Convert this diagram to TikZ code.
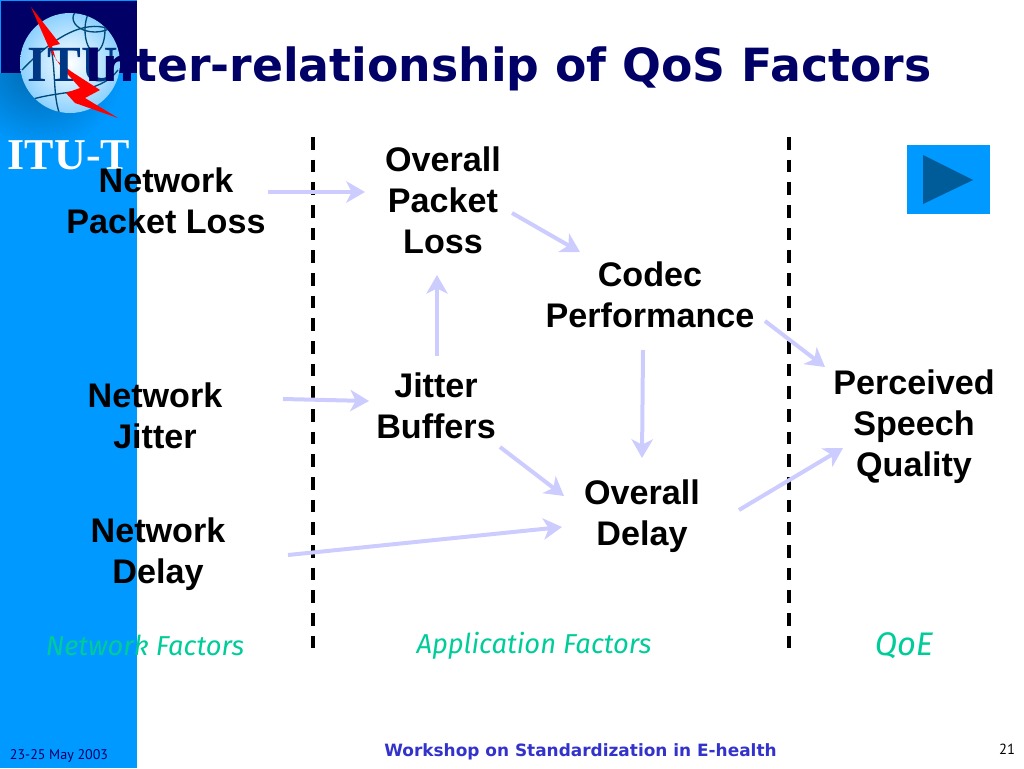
\documentclass[tikz,border=0pt]{standalone}
\usepackage{fontspec}
\setmainfont{Liberation Sans}
\newfontfamily\titlefont{DejaVu Sans}
\newfontfamily\serifont{Liberation Serif}
\newfontfamily\factorfont{Fira Sans}
\newfontfamily\datefont{PT Sans}
\usetikzlibrary{positioning,calc,arrows.meta}
\definecolor{ITUBlue}{RGB}{0,153,255}
\definecolor{ITUNavy}{RGB}{0,0,102}
\definecolor{ITUDark}{RGB}{0,92,153}
\definecolor{FlowBlue}{RGB}{204,204,255}
\definecolor{FactorGreen}{RGB}{0,204,153}
\definecolor{FootBlue}{RGB}{51,51,204}
\tikzset{
    factor/.style={font=\bfseries\fontsize{25.6}{30.75}\selectfont, align=center, inner sep=0pt, text=black},
    flow/.style={draw=FlowBlue, line width=3pt, -{Stealth[length=14pt,width=16pt,inset=4pt]}},
    divider/.style={draw=black, line width=2.6pt, dash pattern=on 9.5pt off 7.5pt},
    column/.style={font=\factorfont\itshape\fontsize{20.5}{24}\selectfont, text=FactorGreen, inner sep=0pt},
}
\begin{document}
\begin{tikzpicture}[x=0.75pt, y=-0.75pt]
    \useasboundingbox (0,0) rectangle (1024,768);
    % side bar and logo
    \fill[ITUBlue] (0,0) rectangle (137,768);
    \begin{scope}
        \clip (0,73) rectangle (137,140);
        \shade[inner color=ITUDark!85!ITUBlue, outer color=ITUBlue] (40,65) circle (85);
    \end{scope}
    \fill[ITUNavy] (1,1) rectangle (137,73);
    \shade[inner color=white, outer color=ITUBlue!45!white] (70,63) circle (50);
    \begin{scope}
        \clip (70,63) circle (50);
        \draw[ITUDark!80!black, line width=1pt] (22,70) .. controls (60,30) and (90,20) .. (112,30);
        \draw[ITUDark!80!black, line width=1pt] (30,100) .. controls (60,90) and (100,95) .. (118,70);
        \draw[ITUDark!80!black, line width=1pt] (40,20) .. controls (60,50) and (50,90) .. (60,115);
        \draw[ITUDark!80!black, line width=1pt] (95,18) ellipse (22 and 14);
        \draw[ITUDark!80!black, line width=1pt] (95,30) ellipse (10 and 22);
    \end{scope}
    \fill[red] (31,7) -- (60,44) -- (52,46) -- (56,60) -- (72,72) -- (100,90) -- (85,98) -- (118,118) -- (75,103) -- (66,93) -- (80,88) -- (62,68) -- (50,50) -- cycle;
    \node[font=\serifont\bfseries\fontsize{38}{38}\selectfont, text=ITUDark!60!ITUNavy, inner sep=0pt] (logotext) at (73,65) {ITU};
    \node[font=\serifont\bfseries\fontsize{33}{33}\selectfont, text=white, inner sep=0pt] (itut) at (69,155) {ITU-T};
    % title
    \node[font=\titlefont\bfseries\fontsize{34.3}{34}\selectfont, text=ITUNavy, inner sep=0pt] (title) at (508.5,69) {Inter-relationship of QoS Factors};
    % play button
    \fill[ITUBlue] (907,145) rectangle (990,214);
    \fill[ITUDark] (923,155) -- (973,180) -- (923,204) -- cycle;
    % dividers
    \coordinate (ltop) at (313,137);
    \coordinate (lbot) at (313,649);
    \coordinate (rtop) at (789,137);
    \coordinate (rbot) at (789,649);
    \draw[divider] (ltop) -- (lbot);
    \draw[divider] (rtop) -- (rbot);
    % factors
    \node[factor] (nloss) at (166,201) {Network\\Packet Loss};
    \node[factor] (njitter) at (155,416) {Network\\Jitter};
    \node[factor] (ndelay) at (158,554) {Network\\Delay};
    \node[factor] (oloss) at (443,200) {Overall\\Packet\\Loss};
    \node[factor] (buffers) at (436,406) {Jitter\\Buffers};
    \node[factor] (codec) at (650,295) {Codec\\Performance};
    \node[factor] (odelay) at (642,516) {Overall\\Delay};
    \node[factor] (speech) at (914,427) {Perceived\\Speech\\Quality};
    % arrows
    \draw[flow] ([shift={(102,-9)}]nloss.center) -- ([shift={(-78,-8)}]oloss.center);
    \draw[flow] ([shift={(69,13)}]oloss.center) -- ([shift={(-70,-43)}]codec.center);
    \draw[flow] ([shift={(1,-50)}]buffers.center) -- ([shift={(-6,75)}]oloss.center);
    \draw[flow] ([shift={(128,-17)}]njitter.center) -- ([shift={(-67,-5)}]buffers.center);
    \draw[flow] ([shift={(64,41)}]buffers.center) -- ([shift={(-78,-20)}]odelay.center);
    \draw[flow] ([shift={(130,1)}]ndelay.center) -- ([shift={(-80,11)}]odelay.center);
    \draw[flow] ([shift={(-7,55)}]codec.center) -- ([shift={(0,-58)}]odelay.center);
    \draw[flow] ([shift={(115,26)}]codec.center) -- ([shift={(-89,-60)}]speech.center);
    \draw[flow] ([shift={(97,-6)}]odelay.center) -- ([shift={(-71,21)}]speech.center);
    % column headings
    \node[column] (netcol) at (145,645) {Network Factors};
    \node[column] (appcol) at (534,646) {Application Factors};
    \node[column, font=\factorfont\itshape\fontsize{24.5}{28}\selectfont] (qoecol) at (904,646) {QoE};
    % footer
    \node[font=\datefont\fontsize{10.5}{13}\selectfont, text=ITUNavy, inner sep=0pt] (date) at (59,756) {23-25 May 2003};
    \node[font=\titlefont\bfseries\fontsize{12.7}{15}\selectfont, text=FootBlue, inner sep=0pt] (workshop) at (580.5,752) {Workshop on Standardization in E-health};
    \node[font=\datefont\fontsize{11}{13}\selectfont, text=black, inner sep=0pt] (pageno) at (1007,749) {21};
\end{tikzpicture}
\end{document}
